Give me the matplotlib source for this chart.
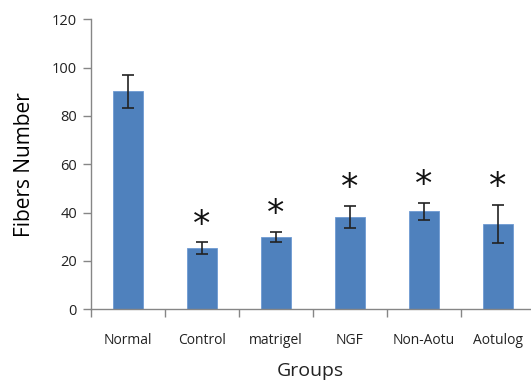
import matplotlib
matplotlib.use("Agg")
import matplotlib.pyplot as plt
import numpy as np

groups = ["Normal", "Control", "matrigel", "NGF", "Non-Aotu", "Aotulog"]
fibers = [90.2, 25.3, 30.0, 38.2, 40.6, 35.3]
errors = [6.8, 2.4, 2.0, 4.5, 3.5, 7.8]
marked = [False, True, True, True, True, True]

plt.rcParams["font.family"] = ["Liberation Sans", "DejaVu Sans"]

fig = plt.figure(figsize=(5.31, 3.83), dpi=100)
ax = fig.add_axes([91 / 531, 73.7 / 383, 444 / 531, 290 / 383])

x = np.arange(len(groups))
ax.bar(x, fibers, width=0.41, color="#4F81BD", edgecolor="#6F9BD3", linewidth=0.6,
       yerr=errors, capsize=4.5, error_kw=dict(ecolor="#222222", elinewidth=1.2, capthick=1.2),
       zorder=2)

for xi, v, e, m in zip(x, fibers, errors, marked):
    if m:
        ax.text(xi, v + e + 0.3, "*", ha="center", va="bottom", fontsize=25,
                family="DejaVu Sans", color="#111111")

ax.set_xlim(-0.5, len(groups) - 0.5)
ax.set_ylim(0, 120)
ax.set_yticks(range(0, 121, 20))
ax.set_xticks(np.arange(-0.5, len(groups), 1.0))
ax.set_xticklabels([])
ax.set_xticks(x, minor=True)
ax.set_xticklabels(groups, minor=True, family="Open Sans")
ax.tick_params(axis="x", which="major", length=6, direction="out", color="#868686", width=1)
ax.tick_params(axis="x", which="minor", length=0, pad=17, labelsize=10, labelcolor="#222222")
ax.tick_params(axis="y", length=6, direction="out", color="#868686", width=1,
               labelsize=10.5, labelcolor="#222222", pad=4)
for lbl in ax.get_yticklabels():
    lbl.set_family("Open Sans")

for s in ["top", "right"]:
    ax.spines[s].set_visible(False)
for s in ["left", "bottom"]:
    ax.spines[s].set_color("#868686")
    ax.spines[s].set_linewidth(1)

ax.set_ylabel("Fibers Number", fontsize=15, labelpad=12, family="Open Sans")
fig.text(310 / 531, 3 / 383, "Groups", ha="center", va="bottom", fontsize=14,
         family="Open Sans", color="#222222")

fig.savefig("out.png", dpi=100)
